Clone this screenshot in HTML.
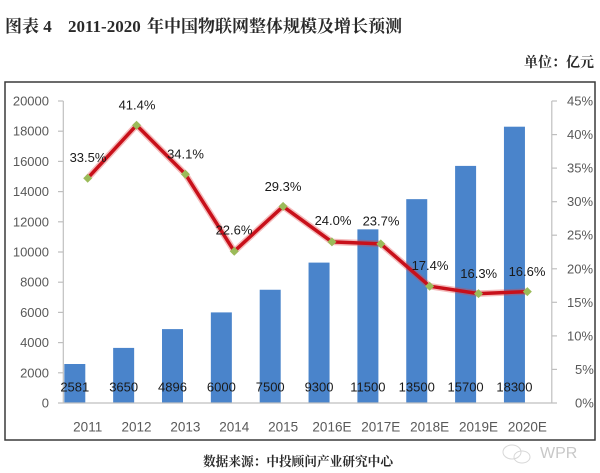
<!DOCTYPE html>
<html>
<head>
<meta charset="utf-8">
<style>
html,body{margin:0;padding:0;background:#fff;}
svg{display:block;}
</style>
</head>
<body>
<svg width="600" height="473" viewBox="0 0 600 473" xmlns="http://www.w3.org/2000/svg">
  <rect x="0" y="0" width="600" height="473" fill="#ffffff"/>
  <!-- Title -->
  <g font-family="'Liberation Serif','Noto Serif CJK SC',serif" font-weight="bold" fill="#2a2a2a">
    <text x="5" y="32" font-size="17">图表 4</text>
    <text x="68" y="32" font-size="17">2011-2020</text>
    <text x="147" y="32" font-size="17" textLength="255" lengthAdjust="spacingAndGlyphs">年中国物联网整体规模及增长预测</text>
    <text x="594" y="67" font-size="14" text-anchor="end">单位：亿元</text>
    <text x="203" y="466" font-size="13" textLength="190" lengthAdjust="spacingAndGlyphs">数据来源：中投顾问产业研究中心</text>
  </g>

  <!-- Chart border -->
  <rect x="5" y="82" width="590" height="358" fill="#fff" stroke="#3a3a3a" stroke-width="1.5"/>

  <!-- Bars -->
  <g fill="#4a84cb">
    <rect x="64.3" y="364.0" width="21" height="39.0"/>
    <rect x="113.15" y="347.9" width="21" height="55.1"/>
    <rect x="162.0" y="329.1" width="21" height="73.9"/>
    <rect x="210.85" y="312.4" width="21" height="90.6"/>
    <rect x="259.7" y="289.75" width="21" height="113.25"/>
    <rect x="308.55" y="262.6" width="21" height="140.4"/>
    <rect x="357.4" y="229.35" width="21" height="173.65"/>
    <rect x="406.25" y="199.15" width="21" height="203.85"/>
    <rect x="455.1" y="165.9" width="21" height="237.1"/>
    <rect x="503.95" y="126.7" width="21" height="276.3"/>
  </g>

  <!-- Axes -->
  <g stroke="#bfbfbf" stroke-width="1.2" fill="none">
    <line x1="63.3" y1="101" x2="63.3" y2="403"/>
    <line x1="551.8" y1="101" x2="551.8" y2="403"/>
    <line x1="58" y1="403" x2="557" y2="403"/>
    <!-- left ticks -->
    <line x1="58" y1="372.8" x2="63.3" y2="372.8"/>
    <line x1="58" y1="342.6" x2="63.3" y2="342.6"/>
    <line x1="58" y1="312.4" x2="63.3" y2="312.4"/>
    <line x1="58" y1="282.2" x2="63.3" y2="282.2"/>
    <line x1="58" y1="252" x2="63.3" y2="252"/>
    <line x1="58" y1="221.8" x2="63.3" y2="221.8"/>
    <line x1="58" y1="191.6" x2="63.3" y2="191.6"/>
    <line x1="58" y1="161.4" x2="63.3" y2="161.4"/>
    <line x1="58" y1="131.2" x2="63.3" y2="131.2"/>
    <line x1="58" y1="101" x2="63.3" y2="101"/>
    <!-- right ticks -->
    <line x1="551.8" y1="369.4" x2="557" y2="369.4"/>
    <line x1="551.8" y1="335.9" x2="557" y2="335.9"/>
    <line x1="551.8" y1="302.3" x2="557" y2="302.3"/>
    <line x1="551.8" y1="268.8" x2="557" y2="268.8"/>
    <line x1="551.8" y1="235.2" x2="557" y2="235.2"/>
    <line x1="551.8" y1="201.7" x2="557" y2="201.7"/>
    <line x1="551.8" y1="168.1" x2="557" y2="168.1"/>
    <line x1="551.8" y1="134.6" x2="557" y2="134.6"/>
    <line x1="551.8" y1="101" x2="557" y2="101"/>
  </g>

  <!-- Left axis labels -->
  <g font-family="'Liberation Sans',sans-serif" font-size="13" fill="#595959" text-anchor="end">
    <text x="49" y="407.5">0</text>
    <text x="49" y="377.3">2000</text>
    <text x="49" y="347.1">4000</text>
    <text x="49" y="316.9">6000</text>
    <text x="49" y="286.7">8000</text>
    <text x="49" y="256.5">10000</text>
    <text x="49" y="226.3">12000</text>
    <text x="49" y="196.1">14000</text>
    <text x="49" y="165.9">16000</text>
    <text x="49" y="135.7">18000</text>
    <text x="49" y="105.5">20000</text>
  </g>

  <!-- Right axis labels -->
  <g font-family="'Liberation Sans',sans-serif" font-size="13" fill="#595959" text-anchor="start">
    <text x="575" y="407.5">0%</text>
    <text x="575" y="373.9">5%</text>
    <text x="567" y="340.4">10%</text>
    <text x="567" y="306.8">15%</text>
    <text x="567" y="273.3">20%</text>
    <text x="567" y="239.7">25%</text>
    <text x="567" y="206.2">30%</text>
    <text x="567" y="172.6">35%</text>
    <text x="567" y="139.1">40%</text>
    <text x="567" y="105.5">45%</text>
  </g>

  <!-- X axis labels -->
  <g font-family="'Liberation Sans',sans-serif" font-size="13.5" fill="#595959" text-anchor="middle">
    <text x="87.7" y="431.5">2011</text>
    <text x="136.55" y="431.5">2012</text>
    <text x="185.4" y="431.5">2013</text>
    <text x="234.25" y="431.5">2014</text>
    <text x="283.1" y="431.5">2015</text>
    <text x="331.95" y="431.5">2016E</text>
    <text x="380.8" y="431.5">2017E</text>
    <text x="429.65" y="431.5">2018E</text>
    <text x="478.5" y="431.5">2019E</text>
    <text x="527.35" y="431.5">2020E</text>
  </g>

  <!-- Bar data labels -->
  <g font-family="'Liberation Sans',sans-serif" font-size="13" fill="#1a1a1a" text-anchor="middle">
    <text x="74.8" y="391.5">2581</text>
    <text x="123.65" y="391.5">3650</text>
    <text x="172.5" y="391.5">4896</text>
    <text x="221.35" y="391.5">6000</text>
    <text x="270.2" y="391.5">7500</text>
    <text x="319.05" y="391.5">9300</text>
    <text x="367.9" y="391.5">11500</text>
    <text x="416.75" y="391.5">13500</text>
    <text x="465.6" y="391.5">15700</text>
    <text x="514.45" y="391.5">18300</text>
  </g>

  <!-- Line series -->
  <polyline fill="none" stroke="#e04040" stroke-opacity="0.35" stroke-width="6.5" stroke-linejoin="round"
    points="87.7,178.2 136.55,125.2 185.4,174.2 234.25,251.3 283.1,206.4 331.95,241.9 380.8,243.9 429.65,286.2 478.5,293.6 527.35,291.6"/>
  <polyline fill="none" stroke="#c8101a" stroke-width="3.5" stroke-linejoin="round"
    points="87.7,178.2 136.55,125.2 185.4,174.2 234.25,251.3 283.1,206.4 331.95,241.9 380.8,243.9 429.65,286.2 478.5,293.6 527.35,291.6"/>
  <g fill="#9bbb59">
    <polygon points="87.7,173.7 92.2,178.2 87.7,182.7 83.2,178.2"/>
    <polygon points="136.55,120.7 141.05,125.2 136.55,129.7 132.05,125.2"/>
    <polygon points="185.4,169.7 189.9,174.2 185.4,178.7 180.9,174.2"/>
    <polygon points="234.25,246.8 238.75,251.3 234.25,255.8 229.75,251.3"/>
    <polygon points="283.1,201.9 287.6,206.4 283.1,210.9 278.6,206.4"/>
    <polygon points="331.95,237.4 336.45,241.9 331.95,246.4 327.45,241.9"/>
    <polygon points="380.8,239.4 385.3,243.9 380.8,248.4 376.3,243.9"/>
    <polygon points="429.65,281.7 434.15,286.2 429.65,290.7 425.15,286.2"/>
    <polygon points="478.5,289.1 483,293.6 478.5,298.1 474,293.6"/>
    <polygon points="527.35,287.1 531.85,291.6 527.35,296.1 522.85,291.6"/>
  </g>

  <!-- Line data labels -->
  <g font-family="'Liberation Sans',sans-serif" font-size="13" fill="#1a1a1a" text-anchor="middle">
    <text x="88" y="162.2">33.5%</text>
    <text x="137" y="109.5">41.4%</text>
    <text x="185.5" y="158.5">34.1%</text>
    <text x="234" y="234.7">22.6%</text>
    <text x="283" y="191.2">29.3%</text>
    <text x="333" y="225.2">24.0%</text>
    <text x="381" y="225.5">23.7%</text>
    <text x="430" y="270.2">17.4%</text>
    <text x="478.7" y="277.8">16.3%</text>
    <text x="527" y="276.2">16.6%</text>
  </g>

  <!-- Watermark -->
  <g opacity="0.5" fill="none" stroke="#b0b0b0" stroke-width="1">
    <ellipse cx="512" cy="452" rx="9" ry="7"/>
    <ellipse cx="522" cy="457" rx="8" ry="6"/>
  </g>
  <text x="540" y="458" font-family="'Liberation Sans',sans-serif" font-size="16" fill="#c8c8c8">WPR</text>
</svg>
</body>
</html>
